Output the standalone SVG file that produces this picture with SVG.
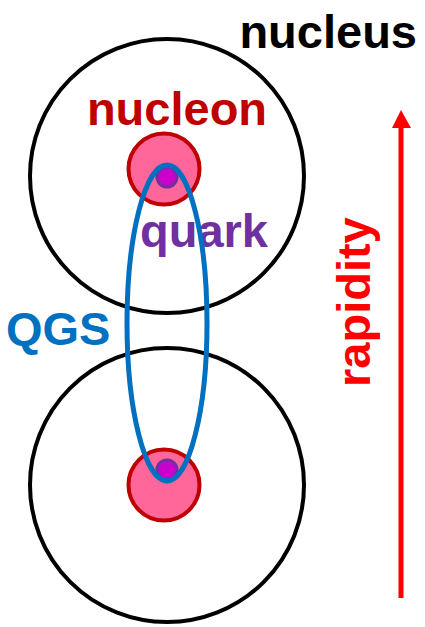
<svg xmlns="http://www.w3.org/2000/svg" width="425" height="627" viewBox="0 0 425 627">
<style>
.lbl{font-family:"Liberation Sans",Arial,sans-serif;font-weight:bold;font-size:47px}
.nucleus{fill:none;stroke:#000;stroke-width:4}
.nucleon{fill:#FF6699;stroke:#C00000;stroke-width:4}
.quark{fill:#CC00CC;stroke:#7030A0;stroke-width:3}
</style>
<rect width="425" height="627" fill="#fff"/>
<g id="nucleus-top"><circle class="nucleus" cx="167" cy="176" r="137"/></g>
<g id="nucleus-bottom"><circle class="nucleus" cx="167" cy="485" r="137"/></g>
<g id="nucleon-top"><circle class="nucleon" cx="164" cy="169" r="35.5"/></g>
<g id="nucleon-bottom"><circle class="nucleon" cx="164" cy="485" r="35.5"/></g>
<g id="quark-top"><circle class="quark" cx="167" cy="177" r="10"/></g>
<g id="quark-bottom"><circle class="quark" cx="167" cy="470" r="10"/></g>
<g id="label-nucleus"><text class="lbl" x="417" y="48" text-anchor="end" fill="#000">nucleus</text></g>
<g id="label-nucleon"><text class="lbl" x="177" y="125" text-anchor="middle" fill="#C00000">nucleon</text></g>
<g id="label-quark"><text class="lbl" x="140" y="247" fill="#7030A0">quark</text></g>
<g id="label-qgs"><text class="lbl" x="6" y="345" fill="#0070C0">QGS</text></g>
<g id="qgs"><ellipse cx="167" cy="323" rx="40" ry="158" fill="none" stroke="#0070C0" stroke-width="5"/></g>
<g id="connectors">
<line x1="401" y1="598" x2="401" y2="124" stroke="#FF0000" stroke-width="5"/>
<polygon points="401,110 392,128 411,128" fill="#FF0000"/>
</g>
<g id="label-rapidity"><text class="lbl" transform="translate(370,387) rotate(-90)" fill="#FF0000">rapidity</text></g>
</svg>
